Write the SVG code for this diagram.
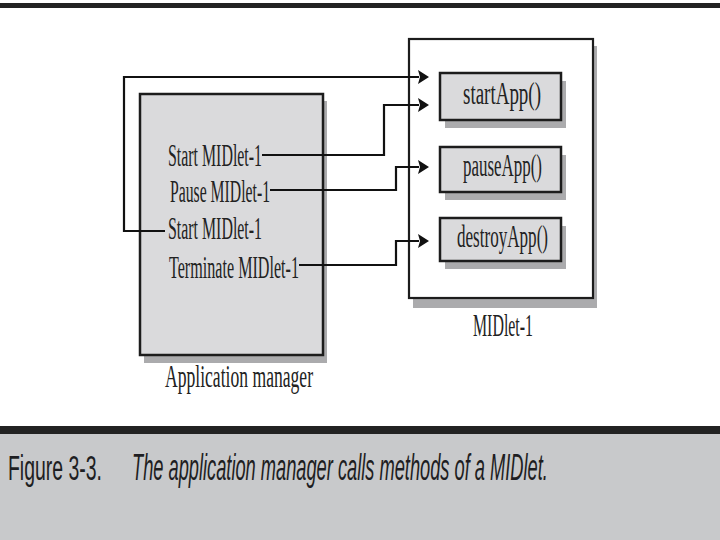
<svg xmlns="http://www.w3.org/2000/svg" width="720" height="540" viewBox="0 0 720 540">
<defs>
<style>
.box{fill:#dadadc;stroke:#1c1c1c;stroke-width:2.5}
.frame{fill:#ffffff;stroke:#1c1c1c;stroke-width:2.2}
.shadow{fill:#ababad}
.lbl{font-family:"Liberation Serif","DejaVu Serif",serif;font-size:31px;fill:#222}
.wire{fill:none;stroke:#111;stroke-width:2.2}
.head{fill:#111}
.cap{font-family:"Liberation Sans","DejaVu Sans",sans-serif;font-size:36px;fill:#1e1e22}
</style>
</defs>
<rect x="0" y="0" width="720" height="540" fill="#ffffff"/>
<rect x="0" y="3" width="720" height="5" fill="#222"/>

<g id="app-manager">
<rect class="shadow" x="144" y="101" width="183" height="262"/>
<rect class="box" x="140" y="94" width="183" height="261"/>
<text class="lbl" x="168" y="166" textLength="94" lengthAdjust="spacingAndGlyphs">Start MIDlet-1</text>
<text class="lbl" x="170" y="202" textLength="100" lengthAdjust="spacingAndGlyphs">Pause MIDlet-1</text>
<text class="lbl" x="168" y="239" textLength="94" lengthAdjust="spacingAndGlyphs">Start MIDlet-1</text>
<text class="lbl" x="169" y="278" textLength="130" lengthAdjust="spacingAndGlyphs">Terminate MIDlet-1</text>
<text class="lbl" x="165" y="387" textLength="148" lengthAdjust="spacingAndGlyphs">Application manager</text>
</g>

<g id="midlet-1">
<rect class="shadow" x="413" y="46" width="184" height="262"/>
<rect class="frame" x="409" y="39" width="184" height="259"/>
<text class="lbl" x="473" y="336" textLength="60" lengthAdjust="spacingAndGlyphs">MIDlet-1</text>
</g>

<g id="startApp">
<rect class="shadow" x="445" y="81" width="121" height="47"/>
<rect class="box" x="440" y="73" width="121" height="47"/>
<text class="lbl" x="463" y="104" textLength="78" lengthAdjust="spacingAndGlyphs">startApp()</text>
</g>

<g id="pauseApp">
<rect class="shadow" x="445" y="155" width="121" height="45"/>
<rect class="box" x="440" y="147" width="121" height="45"/>
<text class="lbl" x="463" y="176" textLength="79" lengthAdjust="spacingAndGlyphs">pauseApp()</text>
</g>

<g id="destroyApp">
<rect class="shadow" x="445" y="226" width="121" height="43"/>
<rect class="box" x="440" y="218" width="121" height="43"/>
<text class="lbl" x="457" y="247" textLength="91" lengthAdjust="spacingAndGlyphs">destroyApp()</text>
</g>

<g id="connectors">
<polyline class="wire" points="165,231 124,231 124,77 419,77"/>
<polyline class="wire" points="262,155 384,155 384,105 419,105"/>
<polyline class="wire" points="270,190 396,190 396,167 419,167"/>
<polyline class="wire" points="299,265 396,265 396,241 419,241"/>
<polygon class="head" points="418,70 429,77 418,84 420,77"/>
<polygon class="head" points="418,98 429,105 418,112 420,105"/>
<polygon class="head" points="418,160 429,167 418,174 420,167"/>
<polygon class="head" points="418,234 429,241 418,248 420,241"/>
</g>

<g id="caption">
<rect x="0" y="426" width="720" height="8" fill="#222"/>
<rect x="0" y="434" width="720" height="106" fill="#c8c9cb"/>
<text class="cap" transform="translate(8,480) scale(0.54,1)">Figure 3-3.</text>
<text class="cap" transform="translate(132,480) scale(0.507,1)" font-style="italic">The application manager calls methods of a MIDlet.</text>
</g>
</svg>
